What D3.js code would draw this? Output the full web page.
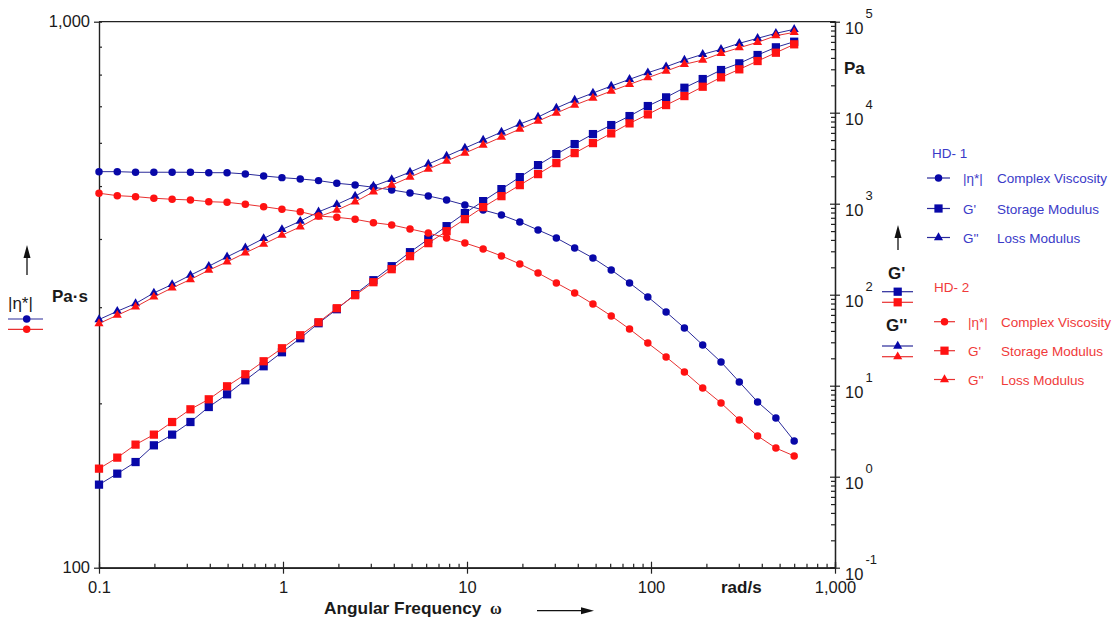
<!DOCTYPE html>
<html>
<head>
<meta charset="utf-8">
<script src="https://cdn.jsdelivr.net/npm/d3@7"></script>
<style>
body { margin: 0; background: #fff; }
svg { display: block; }
text { font-family: "Liberation Sans", Arial, sans-serif; fill: #1a1a1a; }
.bold { font-weight: bold; }
.leg { font-size: 13.5px; }
</style>
</head>
<body>
<svg width="1114" height="623"></svg>
<script>
// angular frequency sweep, rad/s
var freq = [0.1, 0.1257, 0.158, 0.1987, 0.2497, 0.314, 0.395, 0.4966, 0.6242, 0.7849,
  0.9869, 1.241, 1.56, 1.961, 2.466, 3.1, 3.897, 4.9, 6.161, 7.746,
  9.739, 12.24, 15.39, 19.36, 24.33, 30.59, 38.47, 48.36, 60.8, 76.44,
  96.11, 120.8, 151.9, 191, 240.2, 301.9, 379.6, 477.3, 600];

// HD-1
var hd1Eta = [531.3, 531.3, 530.0, 530.0, 530.0, 530.0, 529.0, 529.0, 526.2, 521.8,
  518.1, 515.2, 511.6, 505.9, 502.3, 497.5, 491.9, 485.7, 479.6, 471.5,
  461.7, 452.0, 442.6, 429.8, 415.5, 401.7, 385.1, 369.2, 351.0, 332.3,
  313.3, 294.0, 274.8, 255.8, 238.1, 218.9, 201.2, 188.1, 170.7];
var hd1Gp = [0.818, 1.08, 1.449, 2.212, 2.9, 3.99, 5.834, 8.045, 11.47, 16.36,
  23.31, 33.22, 48.59, 69.25, 101.3, 144.3, 205.7, 293.3, 407.5, 566.6,
  787.4, 1067, 1446, 1959, 2655, 3508, 4519, 5821, 7311, 9182,
  11830, 14740, 18800, 23430, 29430, 34860, 43030, 52310, 60260];
var hd1Gpp = [53.35, 65.81, 80.0, 104.6, 129.5, 163.8, 205.7, 260.4, 327.0, 414.8,
  521.2, 642.9, 813.8, 981.3, 1211, 1560, 1849, 2224, 2724, 3334,
  4083, 5000, 6124, 7499, 8952, 11240, 13770, 16440, 19630, 23260,
  27490, 32000, 37910, 43800, 49720, 57870, 65690, 74550, 82490];

// HD-2
var hd2Eta = [485.1, 480.2, 478.2, 475.0, 472.9, 471.5, 468.1, 466.9, 463.0, 458.4,
  453.3, 448.7, 440.6, 438.3, 434.6, 428.5, 424.4, 417.3, 410.2, 401.7,
  393.3, 383.5, 372.4, 360.0, 346.6, 332.3, 318.6, 304.1, 289.1, 273.6,
  257.9, 243.2, 228.3, 213.4, 200.3, 186.5, 174.3, 165.6, 160.2];
var hd2Gp = [1.226, 1.62, 2.252, 2.9, 3.99, 5.504, 7.089, 9.854, 13.36, 18.56,
  25.79, 35.85, 49.84, 71.03, 98.72, 137.2, 190.7, 265.1, 368.5, 499.1,
  676.4, 916.7, 1211, 1600, 2114, 2793, 3597, 4634, 5925, 7632,
  9585, 12130, 15230, 19290, 24460, 29960, 36970, 45610, 56420];
var hd2Gpp = [48.22, 59.48, 73.4, 94.56, 118.8, 146.9, 185.9, 229.4, 288.2, 359.3,
  451.0, 556.7, 717.0, 849.5, 1048, 1350, 1600, 1959, 2399, 2938,
  3597, 4406, 5395, 6607, 8087, 9906, 12130, 14480, 17290, 20490,
  24220, 28700, 34000, 37910, 44920, 51780, 59350, 70150, 76440];

var xTicks = [0.1, 1, 10, 100, 1000];
var xTickLabels = ["0.1", "1", "10", "100", "1,000"];
var etaTicks = [100, 1000];
var etaTickLabels = ["100", "1,000"];
var gTicks = [0.1, 1, 10, 100, 1000, 10000, 100000];
var gExponents = ["-1", "0", "1", "2", "3", "4", "5"];

var blueMark = "#0808a8", blueLine = "#2a2a9a", blueText = "#3a3ac8";
var redMark = "#ff1212", redLine = "#e83030", redText = "#f03a3a";

var svg = d3.select("svg");
var plotL = 99, plotR = 835, plotT = 21.7, plotB = 567.7;

var x = d3.scaleLog().domain([0.1, 1000]).range([plotL, plotR]);
var yEta = d3.scaleLog().domain([100, 1000]).range([plotB, plotT]);
var yG = d3.scaleLog().domain([0.1, 100000]).range([plotB, plotT]);

function notMajor(list) {
  return function (d) { return list.indexOf(d) < 0; };
}

// top frame line
svg.append("line")
  .attr("x1", plotL).attr("x2", plotR)
  .attr("y1", plotT).attr("y2", plotT)
  .attr("stroke", "#222").attr("stroke-width", 1.3);

// bottom axis
var gx = svg.append("g").attr("transform", "translate(0," + plotB + ")");
gx.call(d3.axisBottom(x).tickValues(xTicks).tickSizeInner(6).tickSizeOuter(0).tickPadding(8)
  .tickFormat(function (d, i) { return xTickLabels[i]; }));
gx.append("g").call(d3.axisBottom(x).tickValues(xTicks.slice(1)).tickSize(-6).tickFormat(""));
gx.append("g").call(d3.axisBottom(x).tickValues(x.ticks().filter(notMajor(xTicks))).tickSize(-4).tickFormat(""));

// left axis (viscosity)
var gl = svg.append("g").attr("transform", "translate(" + plotL + ",0)");
gl.call(d3.axisLeft(yEta).tickValues(etaTicks).tickSizeInner(5).tickSizeOuter(0).tickPadding(4)
  .tickFormat(function (d, i) { return etaTickLabels[i]; }));
gl.append("g").call(d3.axisLeft(yEta).tickValues(yEta.ticks().filter(notMajor(etaTicks))).tickSize(-3).tickFormat(""));

// right axis (moduli)
var gr = svg.append("g").attr("transform", "translate(" + plotR + ",0)");
gr.call(d3.axisRight(yG).tickValues(gTicks).tickSizeInner(5).tickSizeOuter(0).tickFormat(""));
gr.append("g").call(d3.axisRight(yG).tickValues(gTicks).tickSize(-5).tickFormat(""));
gr.append("g").call(d3.axisRight(yG).tickValues(yG.ticks().filter(notMajor(gTicks))).tickSize(-4).tickFormat(""));

var gLab = gr.selectAll(".glab").data(gTicks).enter().append("g").attr("class", "glab");
gLab.append("text")
  .attr("x", 10).attr("y", function (d) { return yG(d) + 12; })
  .style("font-size", "16.5px").text("10");
gLab.append("text")
  .attr("x", 30.5).attr("y", function (d) { return yG(d) - 4; })
  .style("font-size", "13px").text(function (d, i) { return gExponents[i]; });

svg.selectAll(".domain, .tick line").attr("stroke", "#222").attr("stroke-width", 1.2);
svg.selectAll(".tick text").style("font-family", "Liberation Sans, Arial, sans-serif")
  .style("font-size", "16.5px").attr("fill", "#1a1a1a");

// series
var line = d3.line();

function drawSeries(values, yScale, type, size, lineColor, markColor) {
  var pts = values.map(function (v, i) { return [x(freq[i]), yScale(v)]; });
  svg.append("path").datum(pts)
    .attr("d", line).attr("fill", "none")
    .attr("stroke", lineColor).attr("stroke-width", 1);
  svg.append("g").selectAll("path").data(pts).enter().append("path")
    .attr("transform", function (d) { return "translate(" + d[0] + "," + d[1] + ")"; })
    .attr("d", d3.symbol().type(type).size(size))
    .attr("fill", markColor);
}

drawSeries(hd1Eta, yEta, d3.symbolCircle, 44, blueLine, blueMark);
drawSeries(hd1Gp, yG, d3.symbolSquare, 68, blueLine, blueMark);
drawSeries(hd1Gpp, yG, d3.symbolTriangle, 36, blueLine, blueMark);
drawSeries(hd2Eta, yEta, d3.symbolCircle, 44, redLine, redMark);
drawSeries(hd2Gp, yG, d3.symbolSquare, 68, redLine, redMark);
drawSeries(hd2Gpp, yG, d3.symbolTriangle, 36, redLine, redMark);

// axis titles
svg.append("text").attr("class", "bold").attr("x", 324).attr("y", 614)
  .style("font-size", "17.3px").text("Angular Frequency");
svg.append("text").attr("x", 490).attr("y", 614)
  .style("font-family", "Liberation Serif, serif").style("font-weight", "bold")
  .style("font-size", "16px").text("ω");
svg.append("text").attr("class", "bold").attr("x", 721).attr("y", 593)
  .style("font-size", "17px").text("rad/s");
svg.append("text").attr("class", "bold").attr("x", 844).attr("y", 74)
  .style("font-size", "17px").text("Pa");
svg.append("text").attr("class", "bold").attr("x", 52).attr("y", 302)
  .style("font-size", "17px").text("Pa·s");

function arrow(x1, y1, x2, y2) {
  var a = Math.atan2(y2 - y1, x2 - x1), len = 13, w = 3.5;
  var bx = x2 - len * Math.cos(a), by = y2 - len * Math.sin(a);
  svg.append("line").attr("x1", x1).attr("y1", y1).attr("x2", bx).attr("y2", by)
    .attr("stroke", "#111").attr("stroke-width", 1.3);
  svg.append("path")
    .attr("d", "M" + x2 + "," + y2 +
      "L" + (bx + w * Math.sin(a)) + "," + (by - w * Math.cos(a)) +
      "L" + (bx - w * Math.sin(a)) + "," + (by + w * Math.cos(a)) + "Z")
    .attr("fill", "#111");
}
arrow(537, 610.7, 594, 610.7);
arrow(27, 275, 27, 245);
arrow(898, 250, 898, 225);

// left legend
svg.append("text").attr("x", 8).attr("y", 309)
  .style("font-size", "17px").text("|η*|");

function legMark(cx, cy, x1, x2, type, size, lineColor, markColor) {
  svg.append("line").attr("x1", x1).attr("x2", x2).attr("y1", cy).attr("y2", cy)
    .attr("stroke", lineColor).attr("stroke-width", 1.2);
  svg.append("path").attr("transform", "translate(" + cx + "," + cy + ")")
    .attr("d", d3.symbol().type(type).size(size)).attr("fill", markColor);
}
legMark(26.7, 319, 8, 43, d3.symbolCircle, 44, blueLine, blueMark);
legMark(26.7, 329.3, 8, 43, d3.symbolCircle, 44, redLine, redMark);

// right G' / G'' legend
svg.append("text").attr("class", "bold").attr("x", 888).attr("y", 279)
  .style("font-size", "17px").text("G'");
legMark(897.7, 291.7, 882, 913, d3.symbolSquare, 68, blueLine, blueMark);
legMark(897.7, 302.3, 882, 913, d3.symbolSquare, 68, redLine, redMark);
svg.append("text").attr("class", "bold").attr("x", 886).attr("y", 331)
  .style("font-size", "17px").text("G''");
legMark(897.7, 346, 882, 913, d3.symbolTriangle, 36, blueLine, blueMark);
legMark(897.7, 356.7, 882, 913, d3.symbolTriangle, 36, redLine, redMark);

// sample legends
var legSymbols = [d3.symbolCircle, d3.symbolSquare, d3.symbolTriangle];
var legSizes = [44, 68, 36];
var legSymbolNames = ["|η*|", "G'", "G''"];
var legNames = ["Complex Viscosity", "Storage Modulus", "Loss Modulus"];

function sampleLegend(title, titleX, titleY, rowsY, mx1, mx2, symX, nameX, lineColor, markColor, textColor) {
  svg.append("text").attr("class", "leg").attr("x", titleX).attr("y", titleY + 5)
    .style("fill", textColor).text(title);
  rowsY.forEach(function (ry, i) {
    legMark((mx1 + mx2) / 2, ry, mx1, mx2, legSymbols[i], legSizes[i], lineColor, markColor);
    svg.append("text").attr("class", "leg").attr("x", symX).attr("y", ry + 5)
      .style("fill", textColor).text(legSymbolNames[i]);
    svg.append("text").attr("class", "leg").attr("x", nameX).attr("y", ry + 5)
      .style("fill", textColor).text(legNames[i]);
  });
}
sampleLegend("HD- 1", 932, 153, [178, 208.5, 237.5], 927, 950, 963, 997, blueLine, blueMark, blueText);
sampleLegend("HD- 2", 934, 287, [321.7, 350.7, 379.5], 934, 955, 968, 1001, redLine, redMark, redText);
</script>
</body>
</html>
